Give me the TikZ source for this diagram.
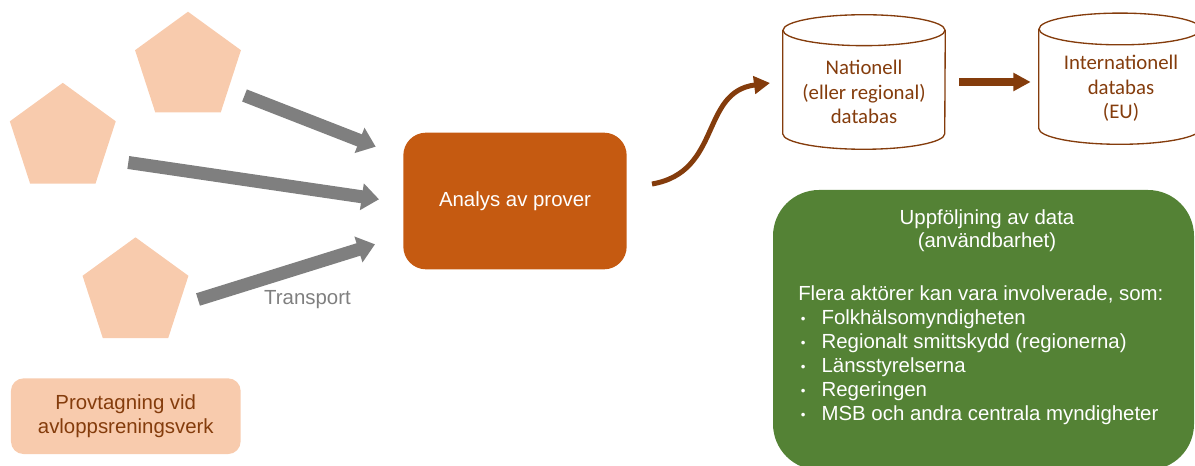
\documentclass[tikz,border=0pt]{standalone}
\usepackage{fontspec}
\setmainfont{Liberation Sans}
\newfontfamily\dbfont{Carlito}
\usetikzlibrary{shapes.geometric,arrows.meta}
\definecolor{peach}{HTML}{F8CBAD}
\definecolor{rust}{HTML}{C55A11}
\definecolor{brownline}{HTML}{843C0C}
\definecolor{leaf}{HTML}{548235}
\definecolor{arrowgrey}{HTML}{7F7F7F}

% small list bullet
\newcommand{\listdot}{\makebox[17.5pt][l]{\hspace{2pt}\raisebox{0.6pt}{\fontsize{10}{10}\selectfont •}}}

\begin{document}
\begin{tikzpicture}[x=0.75pt,y=-0.75pt,
  site/.style={regular polygon, regular polygon sides=5, fill=peach, draw=none,
    inner sep=0pt, minimum size=83.5pt},
  transport/.style={draw=arrowgrey, line width=9.75pt,
    -{Triangle[length=13pt,width=19.5pt]}},
  flow/.style={draw=brownline, line width=5.8pt,
    -{Triangle[length=13pt,width=13pt]}},
  curveflow/.style={draw=brownline, line width=3.75pt,
    -{Triangle[length=12pt,width=13pt]}},
  body/.style={font={\fontsize{15.3}{17.5}\selectfont}, align=center, inner sep=0pt},
  dbbox/.style={rectangle, draw=none, inner sep=0pt},
  dbline/.style={draw=brownline, line width=1pt},
  dbtext/.style={font={\dbfont\fontsize{15.6}{18.3}\selectfont}, text=brownline,
    align=center, inner sep=0pt},
]
\useasboundingbox (0,0) rectangle (1195,466);

% sampling sites
\node[site] (site1) at (188,67.4) {};
\node[site] (site2) at (62.8,138.5) {};
\node[site] (site3) at (135.5,293) {};

% sampling label
\node[body, rectangle, fill=peach, rounded corners=9.5pt, text=brownline,
  minimum width=172.3pt, minimum height=56.8pt] (sampling) at (125.8,416.2)
  {Provtagning vid\\avloppsreningsverk};

% laboratory analysis
\node[body, rectangle, fill=rust, rounded corners=17pt, text=white,
  minimum width=167.5pt, minimum height=102.5pt] (analysis) at (515,201)
  {Analys av prover};

% transport arrows
\coordinate (t1s) at (244.5,95.5);
\coordinate (t1e) at (375.7,146.7);
\coordinate (t2s) at (128.3,162.5);
\coordinate (t2e) at (379,199.3);
\coordinate (t3s) at (198,299.5);
\coordinate (t3e) at (375,244.3);
\draw[transport] (t1s) -- (t1e);
\draw[transport] (t2s) -- (t2e);
\draw[transport] (t3s) -- (t3e);
\node[body, text=arrowgrey] (transportlabel) at (307.5,300) {Transport};

% national database
\node[dbbox, minimum width=121.5pt, minimum height=100.5pt] (natdb) at (864,82) {};
\draw[dbline] ([yshift=-11.6pt]natdb.north west) -- ([yshift=11.6pt]natdb.south west)
  arc[start angle=180, end angle=360, x radius=60.75pt, y radius=11.6pt]
  -- ([yshift=-11.6pt]natdb.north east);
\draw[dbline] ([yshift=-11.6pt]natdb.north) ellipse [x radius=60.75pt, y radius=11.6pt];
\node[dbtext] (nattext) at (864,92) {Nationell\\(eller regional)\\databas};

% international database
\node[dbbox, minimum width=121.5pt, minimum height=98pt] (intdb) at (1120,78.7) {};
\draw[dbline] ([yshift=-11.9pt]intdb.north west) -- ([yshift=11.9pt]intdb.south west)
  arc[start angle=180, end angle=360, x radius=60.75pt, y radius=11.9pt]
  -- ([yshift=-11.9pt]intdb.north east);
\draw[dbline] ([yshift=-11.9pt]intdb.north) ellipse [x radius=60.75pt, y radius=11.9pt];
\node[dbtext] (inttext) at (1121,88.6) {Internationell\\databas\\(EU)};

% reporting arrows
\coordinate (c1s) at (652,184);
\coordinate (c1e) at (770,83);
\draw[curveflow] (c1s) .. controls (722,172) and (700,92) .. (c1e);
\coordinate (f1s) at (959.3,82);
\coordinate (f1e) at (1030.7,82);
\draw[flow] (f1s) -- (f1e);

% follow-up of data
\node[rectangle, fill=leaf, rounded corners=34.5pt, inner sep=0pt,
  minimum width=315.75pt, minimum height=210pt] (followup) at (983.5,330) {};
\node[body, text=white] (followtitle) at (987,231)
  {Uppföljning av data\\(användbarhet)};
\node[body, font={\fontsize{15.3}{18}\selectfont}, text=white, align=left,
  anchor=west] (actors) at (798,355.5)
  {Flera aktörer kan vara involverade, som:\\
   \listdot Folkhälsomyndigheten\\
   \listdot Regionalt smittskydd (regionerna)\\
   \listdot Länsstyrelserna\\
   \listdot Regeringen\\
   \listdot MSB och andra centrala myndigheter};
\end{tikzpicture}
\end{document}
